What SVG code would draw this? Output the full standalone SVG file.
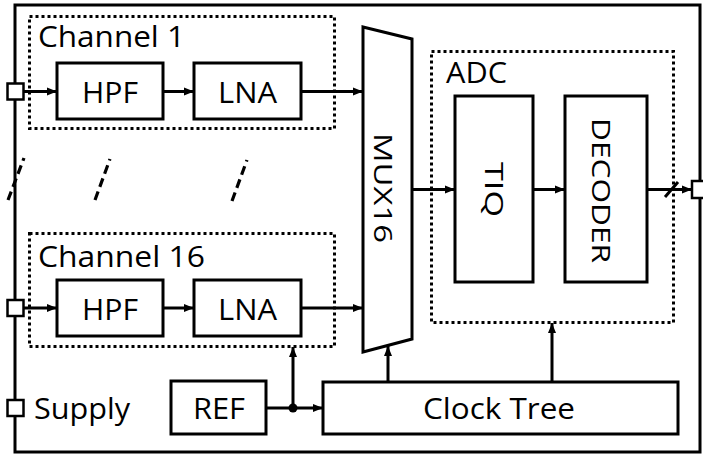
<svg xmlns="http://www.w3.org/2000/svg" width="703" height="456" viewBox="0 0 703 456">
<style>
.box{fill:#fff;stroke:#000;stroke-width:3}
.dot{fill:none;stroke:#000;stroke-width:3;stroke-dasharray:3 3}
.ln{fill:none;stroke:#000;stroke-width:3}
.dash{fill:none;stroke:#000;stroke-width:3.2;stroke-dasharray:9 5}
.port{fill:#fff;stroke:#000;stroke-width:2.5}
text{font-family:"Open Sans","Liberation Sans",sans-serif;fill:#000}
.t{font-size:30px}
.r{font-size:26px}
</style>
<defs>
<marker id="ah" markerUnits="userSpaceOnUse" markerWidth="11" markerHeight="9" refX="10" refY="4.5" orient="auto">
<path d="M0,0.5 L10,4.5 L0,8.5 z" fill="#000"/>
</marker>
</defs>
<rect id="frame" x="15" y="5" width="685" height="447" fill="#fff" stroke="#000" stroke-width="3"/>
<g id="channel1">
<rect class="dot" x="29.5" y="16.5" width="305" height="112"/>
<text class="t" x="38" y="47" textLength="147" lengthAdjust="spacingAndGlyphs">Channel 1</text>
</g>
<g id="channel16">
<rect class="dot" x="29.5" y="233.5" width="305" height="113"/>
<text class="t" x="38" y="267" textLength="167" lengthAdjust="spacingAndGlyphs">Channel 16</text>
</g>
<g id="adc">
<rect class="dot" x="431.5" y="51.5" width="242" height="271"/>
<text class="t" x="446" y="83" textLength="61" lengthAdjust="spacingAndGlyphs">ADC</text>
</g>
<g id="hpf1"><rect class="box" x="57" y="63" width="106" height="56"/><text class="t" x="110" y="103" text-anchor="middle" textLength="56" lengthAdjust="spacingAndGlyphs">HPF</text></g>
<g id="lna1"><rect class="box" x="194" y="63" width="107" height="56"/><text class="t" x="247.5" y="103" text-anchor="middle" textLength="59" lengthAdjust="spacingAndGlyphs">LNA</text></g>
<g id="hpf16"><rect class="box" x="57" y="280" width="106" height="56"/><text class="t" x="110" y="320" text-anchor="middle" textLength="56" lengthAdjust="spacingAndGlyphs">HPF</text></g>
<g id="lna16"><rect class="box" x="194" y="280" width="107" height="56"/><text class="t" x="247.5" y="320" text-anchor="middle" textLength="59" lengthAdjust="spacingAndGlyphs">LNA</text></g>
<g id="mux"><path class="box" d="M363,27 L412,39 L412,339 L363,352 Z"/><text class="r" transform="translate(374,188) rotate(90)" text-anchor="middle" textLength="110" lengthAdjust="spacingAndGlyphs">MUX16</text></g>
<g id="tiq"><rect class="box" x="455" y="96" width="78" height="186"/><text class="r" transform="translate(485,189.5) rotate(90)" text-anchor="middle" textLength="55" lengthAdjust="spacingAndGlyphs">TIQ</text></g>
<g id="decoder"><rect class="box" x="565" y="96" width="82" height="186"/><text class="r" transform="translate(592,190.5) rotate(90)" text-anchor="middle" textLength="145" lengthAdjust="spacingAndGlyphs">DECODER</text></g>
<g id="ref"><rect class="box" x="171" y="381" width="95" height="53"/><text class="t" x="219" y="419" text-anchor="middle" textLength="52" lengthAdjust="spacingAndGlyphs">REF</text></g>
<g id="clocktree"><rect class="box" x="323" y="382" width="355" height="52"/><text class="t" x="499" y="419" text-anchor="middle" textLength="152" lengthAdjust="spacingAndGlyphs">Clock Tree</text></g>
<g id="supply"><rect class="port" x="7.5" y="400" width="16" height="16"/><text class="t" x="34" y="419" textLength="96" lengthAdjust="spacingAndGlyphs">Supply</text></g>
<g id="in1"><rect class="port" x="7.5" y="83.5" width="16" height="16"/></g>
<g id="in16"><rect class="port" x="7.5" y="300" width="16" height="16"/></g>
<g id="out"><rect class="port" x="692" y="181" width="16" height="17"/></g>
<g id="connectors">
<line class="ln" x1="24" y1="91.5" x2="57" y2="91.5" marker-end="url(#ah)"/>
<line class="ln" x1="163" y1="91.5" x2="194" y2="91.5" marker-end="url(#ah)"/>
<line class="ln" x1="301" y1="91.5" x2="363" y2="91.5" marker-end="url(#ah)"/>
<line class="ln" x1="24" y1="308" x2="57" y2="308" marker-end="url(#ah)"/>
<line class="ln" x1="163" y1="308" x2="194" y2="308" marker-end="url(#ah)"/>
<line class="ln" x1="301" y1="308" x2="363" y2="308" marker-end="url(#ah)"/>
<line class="ln" x1="412" y1="189.5" x2="455" y2="189.5" marker-end="url(#ah)"/>
<line class="ln" x1="533" y1="189.5" x2="565" y2="189.5" marker-end="url(#ah)"/>
<line class="ln" x1="647" y1="189.5" x2="692" y2="189.5" marker-end="url(#ah)"/>
<line class="ln" x1="665" y1="197" x2="678" y2="182"/>
<line class="ln" x1="266" y1="408" x2="323" y2="408" marker-end="url(#ah)"/>
<line class="ln" x1="293" y1="408" x2="293" y2="347" marker-end="url(#ah)"/>
<circle cx="293" cy="408" r="4.5" fill="#000"/>
<line class="ln" x1="388" y1="382" x2="388" y2="346" marker-end="url(#ah)"/>
<line class="ln" x1="552" y1="382" x2="552" y2="323" marker-end="url(#ah)"/>
<line class="dash" x1="8" y1="200" x2="24" y2="158"/>
<line class="dash" x1="95" y1="200" x2="110" y2="159"/>
<line class="dash" x1="232" y1="201" x2="247" y2="160"/>
</g>
</svg>
